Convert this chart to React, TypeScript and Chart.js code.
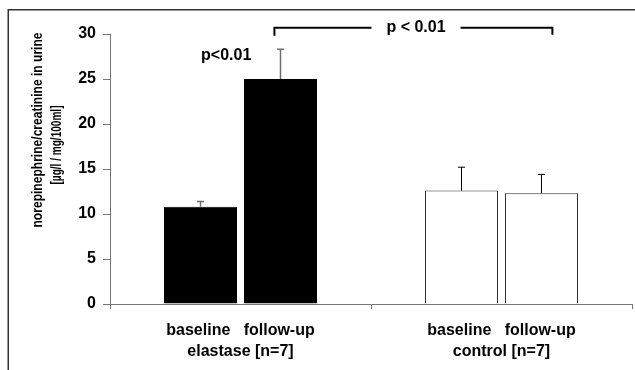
import React, { useEffect, useRef } from "react";
import { Chart, registerables } from "chart.js";

Chart.register(...registerables);

// ---- data ----
const groupLabels = [
  ["baseline   follow-up", "elastase [n=7]"],
  ["baseline   follow-up", "control [n=7]"],
];
const baselineValues = [10.8, 12.6];
const baselineErrors = [0.6, 2.6];
const followupValues = [25.0, 12.3];
const followupErrors = [3.3, 2.1];
const yTitleLines = ["norepinephrine/creatinine in urine", "[µg/l / mg/100ml]"];
const withinLabel = "p<0.01";
const betweenLabel = "p < 0.01";

// annotation placement (in scale units)
const withinLabelPos = { x: -0.055, y: 27.6 };
const bracketFrom = 0.13;
const bracketTo = 1.195;
const bracketLevel = 30.7;
const bracketDrop = 0.9;

const FONT = "'Liberation Sans', Arial, Helvetica, sans-serif";

const groupFill = ["#000000", "#ffffff"];
const groupBorder = ["#000000", "#333333"];
const errColor = ["#707070", "#000000"];
const errWidth = [1.5, 1];

const overlayPlugin = {
  id: "overlay",
  afterDatasetsDraw(chart: any) {
    const ctx = chart.ctx;
    const xs = chart.scales.x;
    const ys = chart.scales.y;
    const errs = [baselineErrors, followupErrors];
    const vals = [baselineValues, followupValues];
    ctx.save();
    // error bars
    for (let d = 0; d < 2; d++) {
      const meta = chart.getDatasetMeta(d);
      meta.data.forEach((bar: any, i: number) => {
        const top = ys.getPixelForValue(vals[d][i] + errs[d][i]);
        ctx.strokeStyle = errColor[i];
        ctx.lineWidth = errWidth[i];
        ctx.beginPath();
        ctx.moveTo(bar.x, bar.y);
        ctx.lineTo(bar.x, top);
        ctx.moveTo(bar.x - 3.5, top);
        ctx.lineTo(bar.x + 3.5, top);
        ctx.stroke();
      });
    }
    // within-group label
    ctx.fillStyle = "#000";
    ctx.font = `bold 16px ${FONT}`;
    ctx.textAlign = "center";
    ctx.textBaseline = "middle";
    ctx.fillText(
      withinLabel,
      xs.getPixelForValue(withinLabelPos.x),
      ys.getPixelForValue(withinLabelPos.y)
    );
    // bracket
    const bx1 = xs.getPixelForValue(bracketFrom);
    const bx2 = xs.getPixelForValue(bracketTo);
    const by = ys.getPixelForValue(bracketLevel);
    const bdrop = ys.getPixelForValue(bracketLevel - bracketDrop);
    const midX = xs.getPixelForValue((bracketFrom + bracketTo) / 2 + 0.01);
    const tw = ctx.measureText(betweenLabel).width;
    const gap = tw / 2 + 15;
    ctx.strokeStyle = "#000";
    ctx.lineWidth = 2;
    ctx.beginPath();
    ctx.moveTo(bx1, bdrop);
    ctx.lineTo(bx1, by);
    ctx.lineTo(midX - gap, by);
    ctx.moveTo(midX + gap, by);
    ctx.lineTo(bx2, by);
    ctx.lineTo(bx2, bdrop - 1);
    ctx.stroke();
    ctx.fillText(betweenLabel, midX, by);

    // y axis title
    ctx.font = `bold 15px ${FONT}`;
    ctx.save();
    ctx.translate(38, 130);
    ctx.rotate(-Math.PI / 2);
    ctx.fillText(yTitleLines[0], 0, 0, 195);
    ctx.restore();
    ctx.save();
    ctx.translate(57, 145);
    ctx.rotate(-Math.PI / 2);
    ctx.fillText(yTitleLines[1], 0, 0, 79);
    ctx.restore();

    // frame
    ctx.strokeStyle = "#333";
    ctx.lineWidth = 1.5;
    ctx.beginPath();
    ctx.moveTo(8.25, 370);
    ctx.lineTo(8.25, 9.75);
    ctx.lineTo(635, 9.75);
    ctx.stroke();
    ctx.restore();
  },
};

export default function App() {
  const ref = useRef<HTMLCanvasElement>(null);
  useEffect(() => {
    document.body.style.margin = "0";
    const canvas = ref.current;
    if (!canvas) return;
    const chart = new Chart(canvas, {
      type: "bar",
      data: {
        labels: groupLabels as any,
        datasets: [
          {
            label: "baseline",
            data: baselineValues,
            backgroundColor: groupFill,
            borderColor: groupBorder,
            borderWidth: 1,
            categoryPercentage: 0.613,
            barPercentage: 0.9125,
          },
          {
            label: "follow-up",
            data: followupValues,
            backgroundColor: groupFill,
            borderColor: groupBorder,
            borderWidth: 1,
            categoryPercentage: 0.613,
            barPercentage: 0.9125,
          },
        ],
      },
      options: {
        responsive: false,
        animation: false,
        layout: { padding: { top: 34, right: 3, left: 0, bottom: 0 } },
        plugins: {
          legend: { display: false },
          tooltip: { enabled: false },
          title: { display: false },
        },
        scales: {
          x: {
            grid: {
              offset: true,
              drawOnChartArea: false,
              drawTicks: true,
              tickLength: 5,
              color: "#777",
            },
            border: { display: true, color: "#777", width: 1 },
            ticks: {
              color: "#000",
              padding: 11,
              maxRotation: 0,
              autoSkip: false,
              font: { family: FONT, size: 16, weight: "bold", lineHeight: "21px" } as any,
            },
            afterFit(scale: any) {
              scale.height = 66;
            },
          },
          y: {
            min: 0,
            max: 30,
            grid: {
              drawOnChartArea: false,
              drawTicks: true,
              tickLength: 7,
              color: "#777",
            },
            border: { display: true, color: "#777", width: 1 },
            ticks: {
              stepSize: 5,
              color: "#000",
              padding: 7,
              font: { family: FONT, size: 16, weight: "bold" } as any,
            },
            afterFit(scale: any) {
              scale.width = 110;
            },
          },
        },
      },
      plugins: [overlayPlugin],
    });
    return () => chart.destroy();
  }, []);
  return <canvas ref={ref} width={635} height={370} style={{ display: "block" }} />;
}
